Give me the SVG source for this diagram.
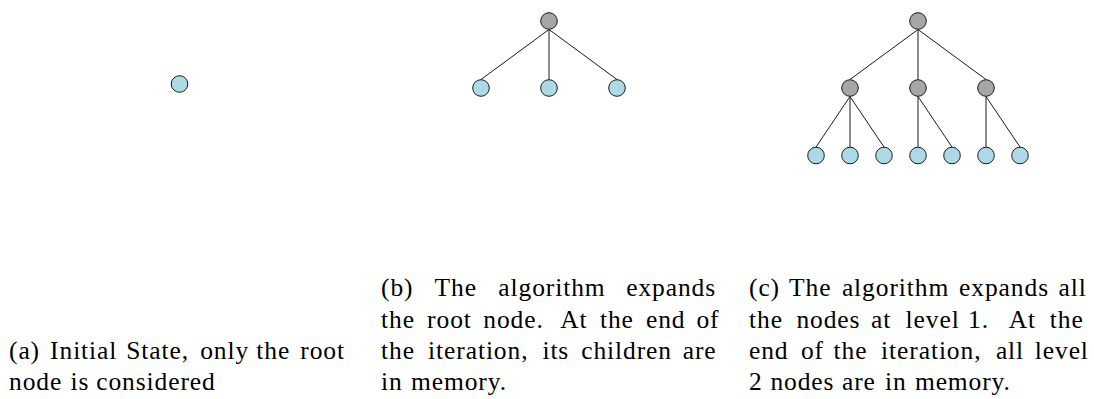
<svg xmlns="http://www.w3.org/2000/svg" width="1094" height="399" viewBox="0 0 1094 399">
<style>
.leaf{fill:#add8e6;stroke:#1a1a1a;stroke-width:1}
.inner{fill:#a6a6a6;stroke:#1a1a1a;stroke-width:1}
.edge{stroke:#1a1a1a;stroke-width:1;fill:none}
text{font-family:'Liberation Serif',serif;font-size:25.5px;letter-spacing:0.9px;fill:#000}
</style>
<rect width="1094" height="399" fill="#fff"/>
<g id="connectors">
<path class="edge" d="M549 29.5L481 79.5M549 29.5L549 79.5M549 29.5L617 79.5"/>
<path class="edge" d="M918 29.5L850 79.5M918 29.5L918 79.5M918 29.5L986 79.5"/>
<path class="edge" d="M850 96.5L816 147M850 96.5L850 147M850 96.5L884 147M918 96.5L918 147M918 96.5L952 147M986 96.5L986 147M986 96.5L1020 147"/>
</g>
<g id="a_root"><circle class="leaf" cx="179.5" cy="84" r="8.3"/></g>
<g id="b_root"><circle class="inner" cx="549" cy="21" r="8.3"/></g>
<g id="b_child1"><circle class="leaf" cx="481" cy="88" r="8.3"/></g>
<g id="b_child2"><circle class="leaf" cx="549" cy="88" r="8.3"/></g>
<g id="b_child3"><circle class="leaf" cx="617" cy="88" r="8.3"/></g>
<g id="c_root"><circle class="inner" cx="918" cy="21" r="8.3"/></g>
<g id="c_l1_1"><circle class="inner" cx="850" cy="88" r="8.3"/></g>
<g id="c_l1_2"><circle class="inner" cx="918" cy="88" r="8.3"/></g>
<g id="c_l1_3"><circle class="inner" cx="986" cy="88" r="8.3"/></g>
<g id="c_l2_1"><circle class="leaf" cx="816" cy="155.5" r="8.3"/></g>
<g id="c_l2_2"><circle class="leaf" cx="850" cy="155.5" r="8.3"/></g>
<g id="c_l2_3"><circle class="leaf" cx="884" cy="155.5" r="8.3"/></g>
<g id="c_l2_4"><circle class="leaf" cx="918" cy="155.5" r="8.3"/></g>
<g id="c_l2_5"><circle class="leaf" cx="952" cy="155.5" r="8.3"/></g>
<g id="c_l2_6"><circle class="leaf" cx="986" cy="155.5" r="8.3"/></g>
<g id="c_l2_7"><circle class="leaf" cx="1020" cy="155.5" r="8.3"/></g>
<g id="caption_a">
<text y="359"><tspan x="9">(a)</tspan><tspan x="50.1">Initial</tspan><tspan x="126.2">State,</tspan><tspan x="200.2">only</tspan><tspan x="256.3">the</tspan><tspan x="300.3">root</tspan></text>
<text y="390"><tspan x="9">node</tspan><tspan x="70.4">is</tspan><tspan x="96.2">considered</tspan></text>
</g>
<g id="caption_b">
<text y="296"><tspan x="381">(b)</tspan><tspan x="434.6">The</tspan><tspan x="498.3">algorithm</tspan><tspan x="626.2">expands</tspan></text>
<text y="327.5"><tspan x="381">the</tspan><tspan x="427.1">root</tspan><tspan x="483.3">node.</tspan><tspan x="560.2">At</tspan><tspan x="599.9">the</tspan><tspan x="646">end</tspan><tspan x="696.4">of</tspan></text>
<text y="359"><tspan x="381">the</tspan><tspan x="428.1">iteration,</tspan><tspan x="542.4">its</tspan><tspan x="581.2">children</tspan><tspan x="682.7">are</tspan></text>
<text y="390"><tspan x="381">in</tspan><tspan x="411">memory.</tspan></text>
</g>
<g id="caption_c">
<text y="296"><tspan x="749">(c)</tspan><tspan x="789">The</tspan><tspan x="841.9">algorithm</tspan><tspan x="959.1">expands</tspan><tspan x="1058.5">all</tspan></text>
<text y="327.5"><tspan x="749">the</tspan><tspan x="796.4">nodes</tspan><tspan x="871.1">at</tspan><tspan x="905.6">level</tspan><tspan x="968">1.</tspan><tspan x="1008.8">At</tspan><tspan x="1049.8">the</tspan></text>
<text y="359"><tspan x="749">end</tspan><tspan x="800.9">of</tspan><tspan x="833.5">the</tspan><tspan x="881.1">iteration,</tspan><tspan x="995.9">all</tspan><tspan x="1034.8">level</tspan></text>
<text y="390"><tspan x="749">2</tspan><tspan x="770.4">nodes</tspan><tspan x="842">are</tspan><tspan x="884.9">in</tspan><tspan x="914.9">memory.</tspan></text>
</g>
</svg>
